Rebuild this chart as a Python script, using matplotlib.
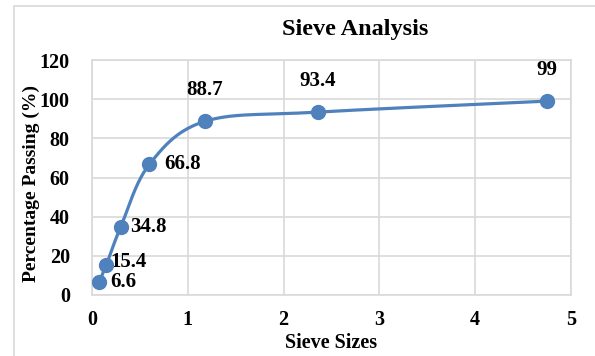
import numpy as np
import matplotlib.pyplot as plt
from matplotlib.patches import Rectangle

# sieve data
sizes = [0.075, 0.15, 0.3, 0.6, 1.18, 2.36, 4.75]
passing = [6.6, 15.4, 34.8, 66.8, 88.7, 93.4, 99]
label_side = ['right', 'right', 'right', 'right', 'top', 'top', 'top']

plt.rcParams['font.family'] = ['Liberation Serif', 'DejaVu Serif']
plt.rcParams['font.weight'] = 'bold'

BLUE = '#4F81BD'
GRID = '#D9D9D9'
# label nudges in pixels (right-side labels: left edge offset from marker)
RIGHT_NUDGE = {6.6: (11, 0), 15.4: (4, 3), 34.8: (9, 0), 66.8: (15, 0)}


def smooth(x, y, n=40):
    # excel-like smoothed line (catmull-rom through the points)
    x = np.asarray(x, float)
    y = np.asarray(y, float)
    px = np.concatenate([[x[0]], x, [x[-1]]])
    py = np.concatenate([[y[0]], y, [y[-1]]])
    xs, ys = [], []
    t = np.linspace(0, 1, n)
    for i in range(1, len(px) - 2):
        p0, p1, p2, p3 = [np.array([px[j], py[j]]) for j in (i - 1, i, i + 1, i + 2)]
        c1 = p1 + (p2 - p0) / 6
        c2 = p2 - (p3 - p1) / 6
        b = ((1 - t) ** 3)[:, None] * p1 + (3 * (1 - t) ** 2 * t)[:, None] * c1 \
            + (3 * (1 - t) * t ** 2)[:, None] * c2 + (t ** 3)[:, None] * p2
        xs.extend(b[:, 0])
        ys.extend(b[:, 1])
    return xs, ys


fig = plt.figure(figsize=(5.95, 3.56), dpi=100)
fig.patches.append(Rectangle((14 / 595, -0.1), 1.2, 1 - 6 / 356 + 0.1,
                             transform=fig.transFigure, fill=False,
                             edgecolor=GRID, linewidth=1.2))
ax = fig.add_axes([92 / 595, 1 - 295 / 356, (571 - 92) / 595, (295 - 60) / 356])

sx, sy = smooth(sizes, passing)
ax.plot(sx, sy, color=BLUE, linewidth=2.3, zorder=3)
ax.plot(sizes, passing, 'o', color=BLUE, markersize=10, zorder=4)

for x, y, side in zip(sizes, passing, label_side):
    lbl = f'{y:g}'
    if side == 'right':
        dx, dy = RIGHT_NUDGE.get(y, (8, 0))
        ax.annotate(lbl, (x, y), xytext=(dx, dy), textcoords='offset pixels',
                    ha='left', va='center', fontsize=15, fontweight='bold')
    else:
        ax.annotate(lbl, (x, y), xytext=(0, 31), textcoords='offset pixels',
                    ha='center', va='center', fontsize=15, fontweight='bold')

ax.set_xlim(0, 5)
ax.set_ylim(0, 120)
ax.set_xticks(range(0, 6))
ax.set_yticks(range(0, 121, 20))
ax.grid(True, color=GRID, linewidth=1.2)
ax.set_axisbelow(True)
for s in ax.spines.values():
    s.set_color(GRID)
    s.set_linewidth(1.2)
ax.tick_params(length=0, labelsize=14.5)
ax.tick_params(axis='x', pad=11)
ax.tick_params(axis='y', pad=16)
for t in ax.get_xticklabels() + ax.get_yticklabels():
    t.set_fontweight('bold')

ax.set_title('Sieve Analysis', fontsize=17.5, fontweight='bold', pad=18,
             x=(355 - 92) / 479)
ax.set_xlabel('Sieve Sizes', fontsize=14.5, fontweight='bold', labelpad=2)
ax.set_ylabel('Percentage Passing (%)', fontsize=14, fontweight='bold')
ax.yaxis.set_label_coords((40 - 92) / 479, (295 - 184) / 235)

fig.savefig('out.png', dpi=100)
